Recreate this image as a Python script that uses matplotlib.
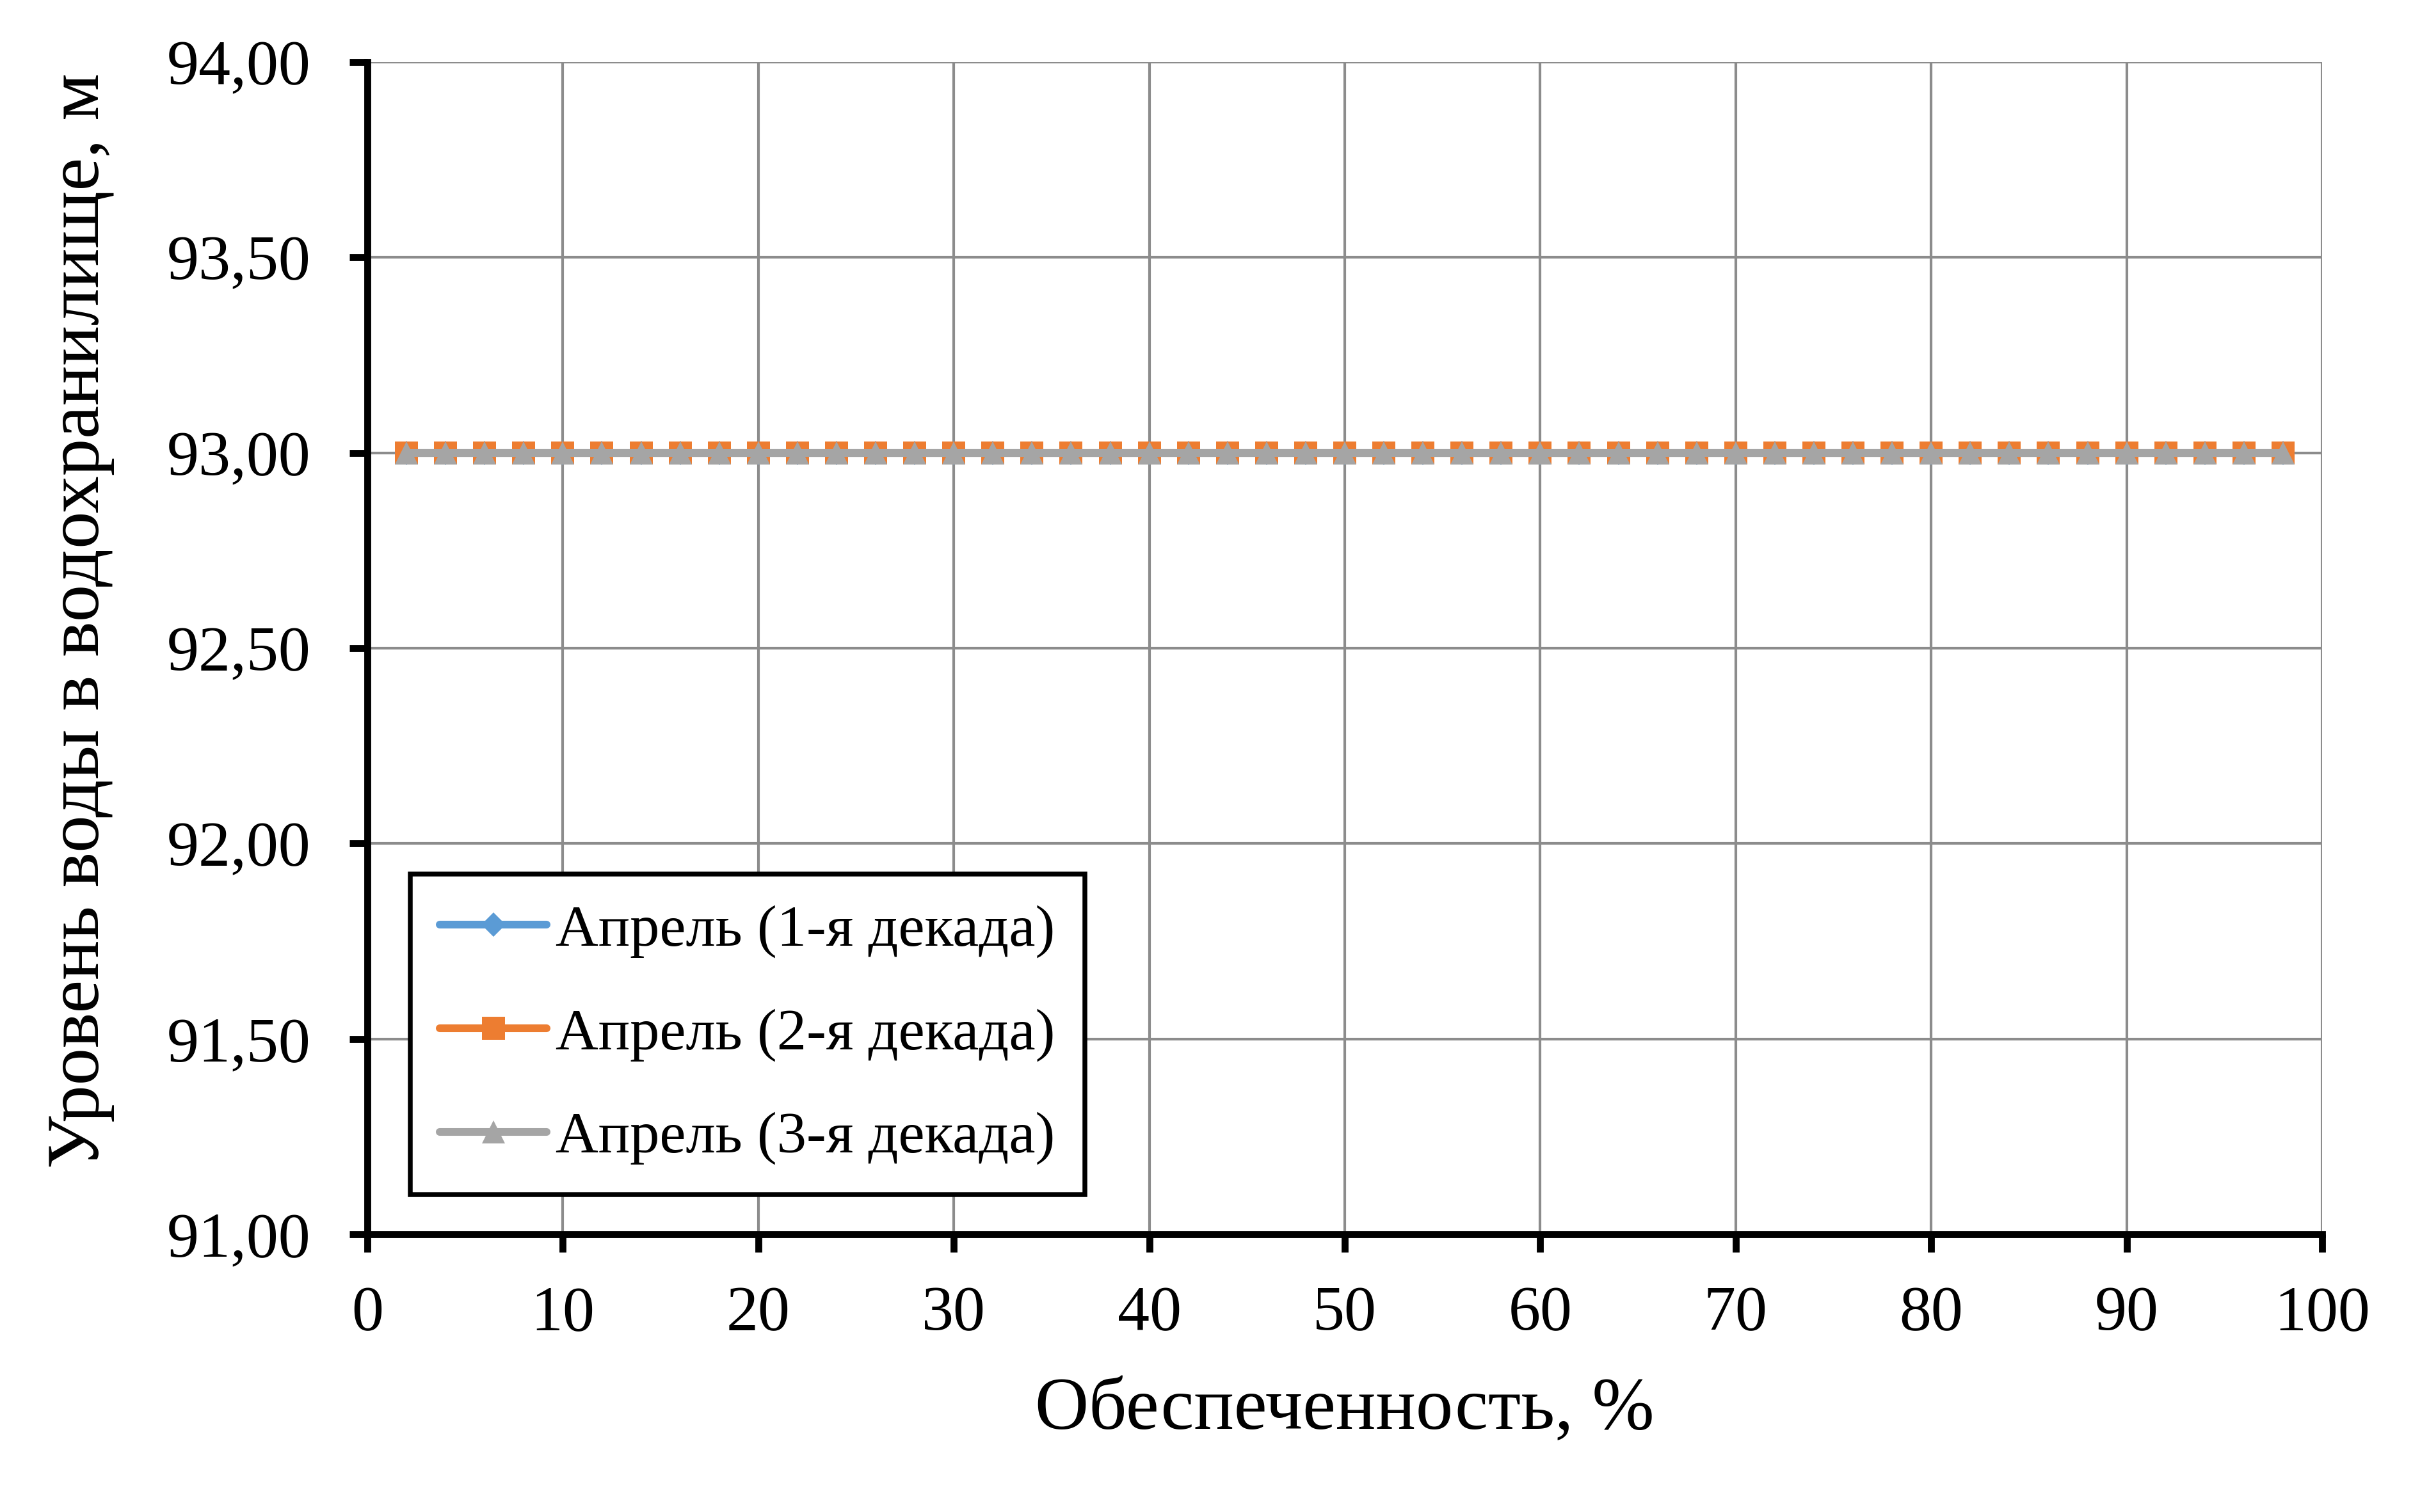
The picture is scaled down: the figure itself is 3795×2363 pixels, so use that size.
import numpy as np
import matplotlib
matplotlib.use("Agg")
import matplotlib.pyplot as plt
from matplotlib.ticker import FuncFormatter

plt.rcParams['font.family'] = ['Liberation Serif', 'DejaVu Serif']

# data: water level for each decade of April vs. probability
prob = list(range(2, 100, 2))
level_1 = [93.0] * len(prob)
level_2 = [93.0] * len(prob)
level_3 = [93.0] * len(prob)
names = ["Апрель (1-я декада)", "Апрель (2-я декада)", "Апрель (3-я декада)"]
colors = ["#5B9BD5", "#ED7D31", "#A5A5A5"]
markers = ["D", "s", "^"]
sizes = [6.6, 8.8, 8.8]

fig = plt.figure(figsize=(3795 / 300, 2363 / 300), dpi=300)
ax = fig.add_axes([574 / 3795, 1 - 1929 / 2363, 3054 / 3795, 1832 / 2363])

for y, name, c, m, s in zip([level_1, level_2, level_3], names, colors, markers, sizes):
    ax.plot(prob, y, color=c, lw=2.9, marker=m, markersize=s,
            markeredgewidth=0, label=name, solid_capstyle='round', zorder=3)

ax.set_xlim(0, 100)
ax.set_ylim(91, 94)
ax.set_xticks(np.arange(0, 101, 10))
ax.set_yticks(np.arange(91, 94.01, 0.5))
ax.yaxis.set_major_formatter(FuncFormatter(lambda v, p: f"{v:.2f}".replace(".", ",")))

ax.grid(True, color="#8c8c8c", lw=1.0, zorder=0)
ax.set_axisbelow(True)
for side in ["top", "right"]:
    ax.spines[side].set_visible(False)
for side in ["left", "bottom"]:
    ax.spines[side].set_linewidth(2.6)
    ax.spines[side].set_color("black")

ax.tick_params(axis='both', direction='out', length=6.7, width=2.6,
               labelsize=24, colors='black')
ax.tick_params(axis='x', pad=12.5)
ax.tick_params(axis='y', pad=14.5)

ax.set_xlabel("Обеспеченность, %", fontsize=28)
ax.set_ylabel("Уровень воды в водохранилище, м", fontsize=28)
ax.xaxis.set_label_coords(0.5, -0.122)
ax.yaxis.set_label_coords(-0.1293, 0.5235)

leg = ax.legend(loc='lower left', bbox_to_anchor=(0.022, 0.034), borderaxespad=0,
                fontsize=22.2, numpoints=1, handlelength=1.8, handletextpad=0.15,
                labelspacing=0.84, borderpad=0.5, fancybox=False, framealpha=1,
                edgecolor='black')
leg.get_frame().set_linewidth(1.8)

plt.savefig("out.png", dpi=300)
